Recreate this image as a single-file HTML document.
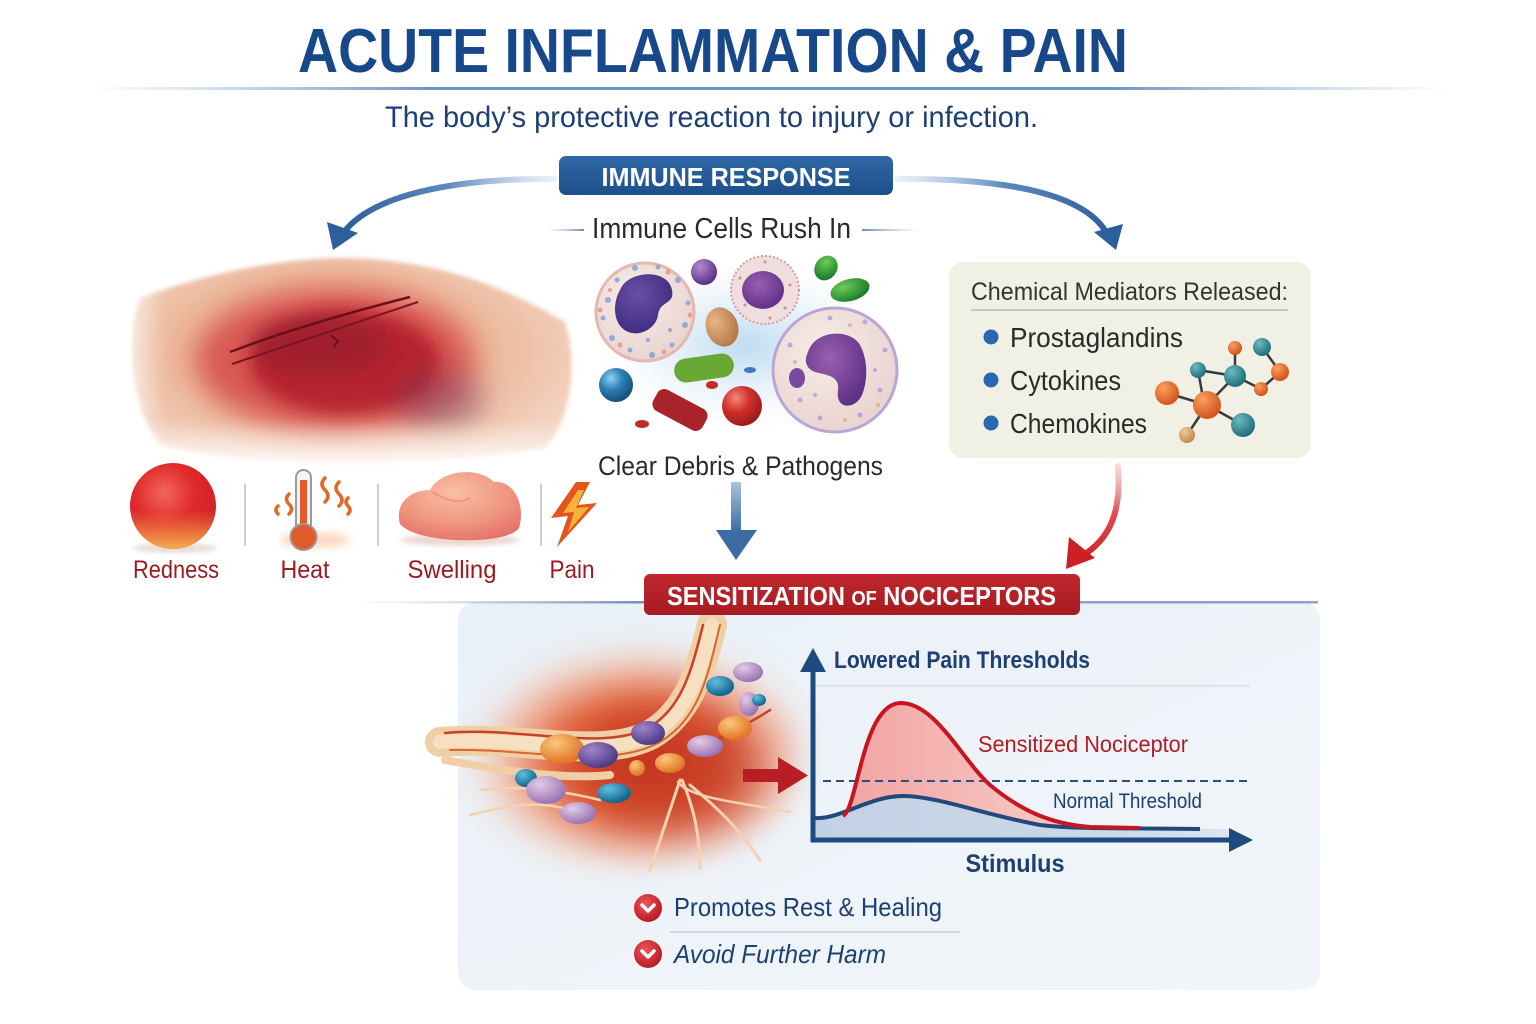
<!DOCTYPE html>
<html><head><meta charset="utf-8"><style>
html,body{margin:0;padding:0;background:#fff;}
svg{display:block;}
text{font-family:"Liberation Sans",sans-serif;}
</style></head><body>
<svg width="1536" height="1024" viewBox="0 0 1536 1024" xmlns="http://www.w3.org/2000/svg">
<defs>
 <filter id="b2" x="-20%" y="-20%" width="140%" height="140%"><feGaussianBlur stdDeviation="2"/></filter>
 <filter id="b4" x="-30%" y="-30%" width="160%" height="160%"><feGaussianBlur stdDeviation="4"/></filter>
 <filter id="b8" x="-40%" y="-40%" width="180%" height="180%"><feGaussianBlur stdDeviation="8"/></filter>
 <filter id="b14" x="-50%" y="-50%" width="200%" height="200%"><feGaussianBlur stdDeviation="14"/></filter>
 <filter id="b22" x="-50%" y="-50%" width="200%" height="200%"><feGaussianBlur stdDeviation="22"/></filter>
 <linearGradient id="tline" x1="0" x2="1" y1="0" y2="0">
  <stop offset="0" stop-color="#8fb0d6" stop-opacity="0"/><stop offset="0.25" stop-color="#6e95c6"/><stop offset="0.75" stop-color="#6e95c6"/><stop offset="1" stop-color="#8fb0d6" stop-opacity="0"/>
 </linearGradient>
 <linearGradient id="banBlue" x1="0" y1="0" x2="0" y2="1"><stop offset="0" stop-color="#2f68a6"/><stop offset="1" stop-color="#1d4f8a"/></linearGradient>
 <linearGradient id="banRed" x1="0" y1="0" x2="0" y2="1"><stop offset="0" stop-color="#c1272d"/><stop offset="1" stop-color="#a51c22"/></linearGradient>
 <linearGradient id="arrL" gradientUnits="userSpaceOnUse" x1="555" y1="0" x2="340" y2="0"><stop offset="0" stop-color="#9fbbdc" stop-opacity="0.2"/><stop offset="0.5" stop-color="#5d88bd"/><stop offset="1" stop-color="#2c5f9b"/></linearGradient>
 <linearGradient id="arrR" gradientUnits="userSpaceOnUse" x1="897" y1="0" x2="1112" y2="0"><stop offset="0" stop-color="#9fbbdc" stop-opacity="0.2"/><stop offset="0.5" stop-color="#5d88bd"/><stop offset="1" stop-color="#2c5f9b"/></linearGradient>
 <linearGradient id="arrD" x1="0" y1="0" x2="0" y2="1"><stop offset="0" stop-color="#a9c2de"/><stop offset="1" stop-color="#3c6ca4"/></linearGradient>
 <linearGradient id="arrRed" gradientUnits="userSpaceOnUse" x1="0" y1="462" x2="0" y2="565"><stop offset="0" stop-color="#f4b0b0" stop-opacity="0.4"/><stop offset="0.5" stop-color="#e04a4e"/><stop offset="1" stop-color="#cc1f26"/></linearGradient>
 <linearGradient id="sideLine" x1="0" x2="1"><stop offset="0" stop-color="#a7bcd6" stop-opacity="0"/><stop offset="1" stop-color="#6f8fb8"/></linearGradient>
 <linearGradient id="sideLineR" x1="0" x2="1"><stop offset="0" stop-color="#6f8fb8"/><stop offset="1" stop-color="#a7bcd6" stop-opacity="0"/></linearGradient>
 <linearGradient id="panel" x1="0" y1="0" x2="1" y2="1"><stop offset="0" stop-color="#e9f0f7"/><stop offset="1" stop-color="#f2f6fa"/></linearGradient>
 <radialGradient id="skin" cx="0.45" cy="0.45" r="0.6"><stop offset="0" stop-color="#e59a86"/><stop offset="0.6" stop-color="#ecb89c"/><stop offset="1" stop-color="#f3d2bf"/></radialGradient>
 <linearGradient id="fadeL" x1="0" x2="1"><stop offset="0" stop-color="#fff"/><stop offset="1" stop-color="#fff" stop-opacity="0"/></linearGradient>
 <linearGradient id="fadeB" x1="0" y1="0" x2="0" y2="1"><stop offset="0" stop-color="#fff" stop-opacity="0"/><stop offset="1" stop-color="#fff"/></linearGradient>
 <radialGradient id="red1" cx="0.4" cy="0.35" r="0.7"><stop offset="0" stop-color="#f4665a"/><stop offset="0.5" stop-color="#e02a2c"/><stop offset="1" stop-color="#cf1f27"/></radialGradient>
 <linearGradient id="redBot" x1="0" y1="0" x2="0" y2="1"><stop offset="0.55" stop-color="#f7a54a" stop-opacity="0"/><stop offset="1" stop-color="#f7b04e"/></linearGradient>
 <radialGradient id="swell" cx="0.45" cy="0.3" r="0.75"><stop offset="0" stop-color="#f9c0a6"/><stop offset="0.6" stop-color="#f09580"/><stop offset="1" stop-color="#e4726a"/></radialGradient>
 <radialGradient id="cellW" cx="0.4" cy="0.35" r="0.7"><stop offset="0" stop-color="#f7ece6"/><stop offset="1" stop-color="#e9d2d0"/></radialGradient>
 <radialGradient id="nuc" cx="0.4" cy="0.35" r="0.7"><stop offset="0" stop-color="#6b4fa8"/><stop offset="1" stop-color="#3c2b7f"/></radialGradient>
 <radialGradient id="nuc2" cx="0.4" cy="0.35" r="0.7"><stop offset="0" stop-color="#9a5fb0"/><stop offset="1" stop-color="#5d2f86"/></radialGradient>
 <radialGradient id="sphBlue" cx="0.35" cy="0.3" r="0.7"><stop offset="0" stop-color="#8fd0ee"/><stop offset="0.5" stop-color="#2b7fb5"/><stop offset="1" stop-color="#1b4f80"/></radialGradient>
 <radialGradient id="sphRed" cx="0.35" cy="0.3" r="0.7"><stop offset="0" stop-color="#f08a78"/><stop offset="0.5" stop-color="#d0302a"/><stop offset="1" stop-color="#9e1b1c"/></radialGradient>
 <radialGradient id="sphPur" cx="0.35" cy="0.3" r="0.7"><stop offset="0" stop-color="#b48ad0"/><stop offset="1" stop-color="#5a3188"/></radialGradient>
 <radialGradient id="sphGreen" cx="0.35" cy="0.3" r="0.7"><stop offset="0" stop-color="#6ccc5a"/><stop offset="1" stop-color="#1f7d2a"/></radialGradient>
 <radialGradient id="sphTan" cx="0.35" cy="0.3" r="0.7"><stop offset="0" stop-color="#eab58a"/><stop offset="1" stop-color="#b57a48"/></radialGradient>
 <radialGradient id="mOr" cx="0.35" cy="0.3" r="0.7"><stop offset="0" stop-color="#f7a060"/><stop offset="1" stop-color="#d5531a"/></radialGradient>
 <radialGradient id="mTe" cx="0.35" cy="0.3" r="0.7"><stop offset="0" stop-color="#6fbac2"/><stop offset="1" stop-color="#1f6f7d"/></radialGradient>
 <radialGradient id="mTan" cx="0.35" cy="0.3" r="0.7"><stop offset="0" stop-color="#f0c894"/><stop offset="1" stop-color="#c08a50"/></radialGradient>
 <radialGradient id="nerveBg" cx="0.55" cy="0.55" r="0.5"><stop offset="0" stop-color="#cf3b1f"/><stop offset="0.5" stop-color="#e2633a"/><stop offset="0.8" stop-color="#f2a888" stop-opacity="0.6"/><stop offset="1" stop-color="#f7d2c2" stop-opacity="0"/></radialGradient>
 <radialGradient id="ovTeal" cx="0.35" cy="0.3" r="0.7"><stop offset="0" stop-color="#5fc0e0"/><stop offset="1" stop-color="#12628c"/></radialGradient>
 <radialGradient id="ovPur" cx="0.35" cy="0.3" r="0.7"><stop offset="0" stop-color="#9f86c8"/><stop offset="1" stop-color="#4e3a86"/></radialGradient>
 <radialGradient id="ovLil" cx="0.35" cy="0.3" r="0.7"><stop offset="0" stop-color="#e3cce6"/><stop offset="1" stop-color="#9b73b3"/></radialGradient>
 <radialGradient id="ovOr" cx="0.35" cy="0.3" r="0.7"><stop offset="0" stop-color="#fcc77a"/><stop offset="1" stop-color="#e07325"/></radialGradient>
 <linearGradient id="redFill" x1="0" y1="0" x2="1" y2="0"><stop offset="0" stop-color="#f2a3a2"/><stop offset="0.6" stop-color="#f7cbc7"/><stop offset="1" stop-color="#fbe9e6"/></linearGradient>
 <linearGradient id="blueFill" x1="0" y1="0" x2="1" y2="0"><stop offset="0" stop-color="#c2d1e4"/><stop offset="0.7" stop-color="#cbd8e8"/><stop offset="1" stop-color="#dde6f0"/></linearGradient>
 <radialGradient id="bulRed" cx="0.4" cy="0.35" r="0.7"><stop offset="0" stop-color="#f0545a"/><stop offset="1" stop-color="#b5161f"/></radialGradient>
 <radialGradient id="cellsBg" cx="0.5" cy="0.5" r="0.5"><stop offset="0" stop-color="#b9d8ef"/><stop offset="1" stop-color="#e8f2fa" stop-opacity="0"/></radialGradient>
</defs>

<rect width="1536" height="1024" fill="#ffffff"/>

<!-- Title -->
<text x="298" y="72" font-size="62" font-weight="bold" fill="#17488a" textLength="830" lengthAdjust="spacingAndGlyphs">ACUTE INFLAMMATION &amp; PAIN</text>
<rect x="90" y="87" width="1360" height="3" fill="url(#tline)"/>
<text x="385" y="127" font-size="30" fill="#1d3f75" textLength="653" lengthAdjust="spacingAndGlyphs">The body’s protective reaction to injury or infection.</text>

<!-- Immune response banner -->
<path d="M 555 179 C 450 178, 372 196, 344 232" fill="none" stroke="url(#arrL)" stroke-width="6" stroke-linecap="round"/>
<polygon points="333,250 327,222 358,233" fill="#2c5f9b"/>
<path d="M 897 179 C 1000 178, 1082 192, 1106 232" fill="none" stroke="url(#arrR)" stroke-width="6" stroke-linecap="round"/>
<polygon points="1116,250 1094,232 1123,224" fill="#2c5f9b"/>
<rect x="559" y="156" width="334" height="39" rx="7" fill="url(#banBlue)"/>
<text x="726" y="186" font-size="26" font-weight="bold" fill="#ffffff" text-anchor="middle" textLength="249" lengthAdjust="spacingAndGlyphs">IMMUNE RESPONSE</text>

<rect x="546" y="229" width="38" height="2" fill="url(#sideLine)"/>
<rect x="862" y="229" width="58" height="2" fill="url(#sideLineR)"/>
<text x="592" y="238" font-size="29" fill="#2a2a2a" textLength="259" lengthAdjust="spacingAndGlyphs">Immune Cells Rush In</text>

<!-- Wound -->
<g>
 <path d="M 140 298 C 200 276, 270 259, 340 258 C 430 258, 500 284, 565 322 C 578 360, 572 420, 545 448 C 420 470, 250 468, 160 445 C 128 405, 126 330, 140 298 Z" fill="url(#skin)" filter="url(#b2)"/>
 <ellipse cx="335" cy="360" rx="140" ry="72" fill="#d23a3e" opacity="0.75" filter="url(#b14)"/>
 <ellipse cx="345" cy="362" rx="95" ry="52" fill="#b11f2b" opacity="0.85" filter="url(#b8)"/>
 <ellipse cx="320" cy="345" rx="70" ry="30" fill="#8e1b2e" opacity="0.5" filter="url(#b8)"/>
 <ellipse cx="440" cy="400" rx="45" ry="28" fill="#74355a" opacity="0.45" filter="url(#b14)"/>
 <rect x="110" y="280" width="55" height="190" fill="url(#fadeL)" filter="url(#b4)"/>
 <rect x="120" y="420" width="470" height="50" fill="url(#fadeB)" filter="url(#b4)"/>
 <path d="M 230 352 Q 300 325 410 297" fill="none" stroke="#6d0f1a" stroke-width="2.5"/>
 <path d="M 232 364 Q 310 338 418 302" fill="none" stroke="#7a1420" stroke-width="2"/>
 <path d="M 330 335 l 8 6 l -4 6" fill="none" stroke="#6d0f1a" stroke-width="2"/>
</g>

<!-- Cells cluster -->
<g>
 <ellipse cx="745" cy="345" rx="150" ry="85" fill="url(#cellsBg)" filter="url(#b8)"/>
 <circle cx="645" cy="312" r="49" fill="url(#cellW)" stroke="#e3b8b0" stroke-width="3"/>
 <path d="M 620 290 C 628 270, 668 268, 672 290 C 675 305, 660 300, 658 315 C 656 330, 635 340, 622 328 C 612 318, 614 300, 620 290 Z" fill="url(#nuc)"/>
 <g fill="#7aa0d8" opacity="0.8">
  <circle cx="608" cy="300" r="3"/><circle cx="603" cy="318" r="2.5"/><circle cx="612" cy="338" r="3"/><circle cx="630" cy="350" r="2.5"/><circle cx="652" cy="355" r="3"/><circle cx="672" cy="345" r="2.5"/><circle cx="685" cy="325" r="3"/><circle cx="688" cy="303" r="2.5"/><circle cx="678" cy="280" r="3"/><circle cx="658" cy="267" r="2.5"/><circle cx="635" cy="268" r="3"/><circle cx="617" cy="280" r="2.5"/><circle cx="670" cy="330" r="2"/><circle cx="648" cy="340" r="2"/>
 </g>
 <g fill="#e89078" opacity="0.8">
  <circle cx="600" cy="310" r="2.5"/><circle cx="620" cy="345" r="2.5"/><circle cx="664" cy="352" r="2.5"/><circle cx="690" cy="315" r="2.5"/><circle cx="668" cy="272" r="2.5"/><circle cx="610" cy="290" r="2"/>
 </g>
 <circle cx="765" cy="290" r="34" fill="#f0dede" stroke="#d89a9a" stroke-width="2" stroke-dasharray="2 2"/>
 <ellipse cx="763" cy="290" rx="21" ry="19" fill="url(#nuc2)"/>
 <g fill="#c06a78" opacity="0.7"><circle cx="740" cy="278" r="1.5"/><circle cx="745" cy="305" r="1.5"/><circle cx="790" cy="285" r="1.5"/><circle cx="785" cy="308" r="1.5"/><circle cx="765" cy="262" r="1.5"/><circle cx="770" cy="318" r="1.5"/></g>
 <circle cx="704" cy="272" r="13" fill="url(#sphPur)"/>
 <ellipse cx="826" cy="268" rx="11" ry="13" transform="rotate(35 826 268)" fill="url(#sphGreen)"/>
 <ellipse cx="850" cy="290" rx="20" ry="11" transform="rotate(-15 850 290)" fill="url(#sphGreen)"/>
 <ellipse cx="722" cy="327" rx="16" ry="20" transform="rotate(-20 722 327)" fill="url(#sphTan)"/>
 <rect x="674" y="356" width="60" height="24" rx="12" transform="rotate(-8 704 368)" fill="#6aa835"/>
 <circle cx="616" cy="385" r="17" fill="url(#sphBlue)"/>
 <rect x="652" y="398" width="56" height="24" rx="8" transform="rotate(28 680 410)" fill="#a8232a"/>
 <circle cx="742" cy="406" r="20" fill="url(#sphRed)"/>
 <ellipse cx="642" cy="424" rx="7" ry="4" fill="#c42a2a"/>
 <ellipse cx="712" cy="385" rx="6" ry="4" fill="#c42a2a"/>
 <ellipse cx="750" cy="370" rx="6" ry="3" fill="#3d7ac0"/>
 <circle cx="835" cy="370" r="62" fill="url(#cellW)" stroke="#b9a6d4" stroke-width="3"/>
 <path d="M 808 352 C 815 330, 850 328, 860 345 C 868 360, 868 380, 862 395 C 855 410, 835 410, 838 390 C 840 375, 825 375, 815 372 C 805 368, 804 360, 808 352 Z" fill="url(#nuc2)"/>
 <ellipse cx="797" cy="378" rx="8" ry="10" fill="#7a4aa0"/>
 <g fill="#b59ad4" opacity="0.8"><circle cx="790" cy="345" r="2.5"/><circle cx="800" cy="400" r="2.5"/><circle cx="820" cy="418" r="2.5"/><circle cx="860" cy="415" r="2.5"/><circle cx="880" cy="390" r="2.5"/><circle cx="885" cy="350" r="2.5"/><circle cx="865" cy="322" r="2.5"/><circle cx="830" cy="318" r="2.5"/><circle cx="815" cy="395" r="2"/><circle cx="875" cy="370" r="2"/></g>
 <g fill="#e8a088" opacity="0.7"><circle cx="795" cy="362" r="2"/><circle cx="845" cy="420" r="2"/><circle cx="878" cy="405" r="2"/><circle cx="850" cy="325" r="2"/></g>
</g>
<text x="598" y="475" font-size="27" fill="#2a2a2a" textLength="285" lengthAdjust="spacingAndGlyphs">Clear Debris &amp; Pathogens</text>

<rect x="731" y="482" width="10" height="50" fill="url(#arrD)"/>
<polygon points="716,530 757,530 736,560" fill="#3c6ca4"/>

<!-- Chemical mediators box -->
<rect x="949" y="262" width="362" height="196" rx="14" fill="#f1f0e5"/>
<text x="971" y="300" font-size="25" fill="#333333" textLength="317" lengthAdjust="spacingAndGlyphs">Chemical Mediators Released:</text>
<rect x="971" y="309" width="317" height="2" fill="#c9c8bb"/>
<circle cx="991" cy="337" r="7.5" fill="#2a67b1"/>
<circle cx="991" cy="380" r="7.5" fill="#2a67b1"/>
<circle cx="991" cy="423" r="7.5" fill="#2a67b1"/>
<text x="1010" y="347" font-size="28" fill="#2a2a2a" textLength="173" lengthAdjust="spacingAndGlyphs">Prostaglandins</text>
<text x="1010" y="390" font-size="28" fill="#2a2a2a" textLength="111" lengthAdjust="spacingAndGlyphs">Cytokines</text>
<text x="1010" y="433" font-size="28" fill="#2a2a2a" textLength="137" lengthAdjust="spacingAndGlyphs">Chemokines</text>
<g stroke="#3a3a3a" stroke-width="2.5">
 <line x1="1167" y1="393" x2="1207" y2="405"/>
 <line x1="1207" y1="405" x2="1235" y2="376"/>
 <line x1="1207" y1="405" x2="1243" y2="425"/>
 <line x1="1207" y1="405" x2="1187" y2="435"/>
 <line x1="1198" y1="370" x2="1235" y2="376"/>
 <line x1="1198" y1="370" x2="1203" y2="398"/>
 <line x1="1235" y1="376" x2="1235" y2="348"/>
 <line x1="1235" y1="376" x2="1261" y2="389"/>
 <line x1="1261" y1="389" x2="1280" y2="372"/>
 <line x1="1280" y1="372" x2="1262" y2="347"/>
</g>
<circle cx="1167" cy="393" r="12" fill="url(#mOr)"/>
<circle cx="1207" cy="405" r="14" fill="url(#mOr)"/>
<circle cx="1198" cy="370" r="8" fill="url(#mTe)"/>
<circle cx="1235" cy="376" r="11" fill="url(#mTe)"/>
<circle cx="1235" cy="348" r="7" fill="url(#mOr)"/>
<circle cx="1262" cy="347" r="9" fill="url(#mTe)"/>
<circle cx="1280" cy="372" r="9" fill="url(#mOr)"/>
<circle cx="1261" cy="389" r="7" fill="url(#mOr)"/>
<circle cx="1243" cy="425" r="12" fill="url(#mTe)"/>
<circle cx="1187" cy="435" r="8" fill="url(#mTan)"/>

<path d="M 1118 466 C 1122 515, 1108 540, 1082 556" fill="none" stroke="url(#arrRed)" stroke-width="6" stroke-linecap="round"/>
<polygon points="1066,569 1069,537 1095,558" fill="#cc1f26"/>

<!-- Symptoms icons -->
<ellipse cx="175" cy="548" rx="42" ry="5" fill="#d8c8c0" opacity="0.6" filter="url(#b2)"/>
<circle cx="173" cy="506" r="43" fill="url(#red1)"/>
<circle cx="173" cy="506" r="43" fill="url(#redBot)"/>
<rect x="244" y="484" width="2" height="62" fill="#cfcfcf"/>
<ellipse cx="315" cy="540" rx="35" ry="8" fill="#f6c09a" opacity="0.6" filter="url(#b4)"/>
<rect x="296" y="470" width="15" height="62" rx="7.5" fill="#f4f4f4" stroke="#9a9a9a" stroke-width="2"/>
<rect x="300" y="480" width="7" height="55" fill="#e05a2c"/>
<circle cx="303.5" cy="537" r="13" fill="#e05a2c" stroke="#9a9a9a" stroke-width="2"/>
<g fill="none" stroke="#e06a28" stroke-width="3.5" stroke-linecap="round">
 <path d="M 289 494 q -5 5 0 10 q 5 5 0 10"/>
 <path d="M 278 506 q -4 4 0 8"/>
 <path d="M 325 478 q -6 6 0 12 q 6 6 0 12"/>
 <path d="M 339 482 q -6 6 0 12 q 6 6 0 12"/>
 <path d="M 348 498 q -4 4 0 8 q 4 4 0 8"/>
</g>
<rect x="377" y="484" width="2" height="62" fill="#cfcfcf"/>
<ellipse cx="460" cy="540" rx="60" ry="6" fill="#e0c0b4" opacity="0.6" filter="url(#b2)"/>
<path d="M 400 524 C 394 502, 412 490, 430 490 C 440 470, 478 466, 494 482 C 514 480, 526 505, 519 528 C 508 545, 418 545, 400 524 Z" fill="url(#swell)"/>
<path d="M 432 492 C 445 500, 460 505, 470 498" fill="none" stroke="#e8846e" stroke-width="2" opacity="0.6"/>
<rect x="540" y="484" width="2" height="62" fill="#cfcfcf"/>
<polygon points="576,482 551,518 568,516 557,547 597,503 578,505 590,482" fill="#e2561d"/>
<polygon points="578,490 563,513 574,512 568,532 589,507 576,508 584,490" fill="#f6b23a"/>

<text x="176" y="578" font-size="25" fill="#9c1b20" text-anchor="middle" textLength="86" lengthAdjust="spacingAndGlyphs">Redness</text>
<text x="305" y="578" font-size="25" fill="#9c1b20" text-anchor="middle" textLength="49" lengthAdjust="spacingAndGlyphs">Heat</text>
<text x="452" y="578" font-size="25" fill="#9c1b20" text-anchor="middle" textLength="89" lengthAdjust="spacingAndGlyphs">Swelling</text>
<text x="572" y="578" font-size="25" fill="#9c1b20" text-anchor="middle" textLength="45" lengthAdjust="spacingAndGlyphs">Pain</text>

<!-- Bottom panel -->
<rect x="458" y="602" width="862" height="388" rx="18" fill="url(#panel)"/>
<rect x="350" y="601" width="296" height="2.5" fill="url(#sideLine)"/>
<rect x="1078" y="601" width="240" height="2.5" fill="#6f8fb8" opacity="0.8"/>

<!-- Nerve illustration -->
<g>
 <ellipse cx="625" cy="748" rx="180" ry="118" fill="url(#nerveBg)" filter="url(#b14)"/>
 <ellipse cx="670" cy="770" rx="90" ry="60" fill="#b82a1c" opacity="0.5" filter="url(#b22)"/>
 <g fill="none" stroke-linecap="round">
  <path d="M 440 742 C 520 735, 600 760, 650 735 C 690 712, 700 670, 712 625" stroke="#efcfa6" stroke-width="30"/>
  <path d="M 440 742 C 520 735, 600 760, 650 735 C 690 712, 700 670, 712 625" stroke="#f6e0c0" stroke-width="14"/>
  <path d="M 445 733 C 520 726, 600 752, 648 728 C 683 708, 692 668, 703 625" stroke="#c8412a" stroke-width="2.5"/>
  <path d="M 450 750 C 530 748, 610 770, 660 742 C 700 718, 708 675, 720 625" stroke="#d8672f" stroke-width="2"/>
  <path d="M 445 760 C 500 770, 560 780, 610 775" stroke="#f0cfa6" stroke-width="8"/>
  <path d="M 660 770 C 700 745, 740 730, 770 710" stroke="#c8412a" stroke-width="2.5"/>
  <path d="M 680 780 C 670 810, 660 840, 650 870" stroke="#f2d2b0" stroke-width="3"/>
  <path d="M 682 780 C 695 810, 700 840, 700 868" stroke="#f2d2b0" stroke-width="3"/>
  <path d="M 690 785 C 720 810, 740 830, 760 860" stroke="#f2d2b0" stroke-width="3"/>
  <path d="M 678 782 C 690 800, 760 805, 790 812" stroke="#f2d2b0" stroke-width="2.5"/>
  <path d="M 480 790 C 520 785, 560 790, 600 800" stroke="#f2d2b0" stroke-width="2.5"/>
  <path d="M 470 815 C 510 805, 540 800, 570 810" stroke="#f2d2b0" stroke-width="2.5"/>
 </g>
 <ellipse cx="562" cy="749" rx="22" ry="15" fill="url(#ovOr)"/>
 <ellipse cx="598" cy="755" rx="20" ry="13" fill="url(#ovPur)"/>
 <ellipse cx="648" cy="733" rx="17" ry="12" fill="url(#ovPur)"/>
 <ellipse cx="670" cy="763" rx="15" ry="10" fill="url(#ovOr)"/>
 <ellipse cx="637" cy="768" rx="8" ry="8" fill="url(#ovOr)"/>
 <ellipse cx="720" cy="686" rx="14" ry="10" fill="url(#ovTeal)"/>
 <ellipse cx="748" cy="672" rx="15" ry="10" fill="url(#ovLil)"/>
 <ellipse cx="749" cy="704" rx="10" ry="12" fill="url(#ovLil)"/>
 <ellipse cx="759" cy="700" rx="7" ry="6" fill="url(#ovTeal)"/>
 <ellipse cx="735" cy="728" rx="17" ry="12" fill="url(#ovOr)"/>
 <ellipse cx="705" cy="746" rx="18" ry="11" fill="url(#ovLil)"/>
 <ellipse cx="526" cy="778" rx="11" ry="9" fill="url(#ovTeal)"/>
 <ellipse cx="546" cy="790" rx="20" ry="14" fill="url(#ovLil)"/>
 <ellipse cx="614" cy="793" rx="17" ry="10" fill="url(#ovTeal)"/>
 <ellipse cx="578" cy="813" rx="18" ry="11" fill="url(#ovLil)"/>
</g>
<rect x="743" y="769" width="38" height="13" fill="#b81e25"/>
<polygon points="778,757 808,775.5 778,794" fill="#b81e25"/>

<!-- Chart -->
<rect x="815" y="685" width="435" height="1.5" fill="#d3dde8"/>
<path d="M 840 818 C 855 812, 860 705, 900 703 C 935 702, 962 760, 990 785 C 1020 810, 1050 824, 1090 827 L 1230 829 L 1230 838 L 840 838 Z" fill="url(#redFill)"/>
<path d="M 815 818 C 840 820, 870 795, 905 796 C 940 797, 985 815, 1040 825 C 1075 829, 1110 828, 1232 829 L 1232 838 L 815 838 Z" fill="url(#blueFill)"/>
<line x1="823" y1="781" x2="1248" y2="781" stroke="#2b4f80" stroke-width="2" stroke-dasharray="8 5"/>
<path d="M 815 818 C 840 820, 870 795, 905 796 C 940 797, 985 815, 1040 825 C 1075 829, 1110 828, 1200 829" fill="none" stroke="#23497c" stroke-width="4"/>
<path d="M 843 816 C 858 808, 862 705, 900 703 C 935 702, 962 760, 990 785 C 1020 810, 1050 824, 1090 827 L 1140 828" fill="none" stroke="#c8151f" stroke-width="4"/>
<line x1="813" y1="668" x2="813" y2="842" stroke="#1d4b80" stroke-width="5"/>
<polygon points="813,648 800,672 826,672" fill="#1d4b80"/>
<line x1="811" y1="840" x2="1232" y2="840" stroke="#1d4b80" stroke-width="5"/>
<polygon points="1253,840 1229,828 1229,852" fill="#1d4b80"/>
<text x="834" y="668" font-size="24" fill="#1d3f72" font-weight="bold" textLength="256" lengthAdjust="spacingAndGlyphs">Lowered Pain Thresholds</text>
<text x="978" y="752" font-size="23" fill="#b01d22" textLength="210" lengthAdjust="spacingAndGlyphs">Sensitized Nociceptor</text>
<text x="1053" y="808" font-size="21" fill="#1d3f72" textLength="149" lengthAdjust="spacingAndGlyphs">Normal Threshold</text>
<text x="1015" y="872" font-size="25" fill="#1d3f72" font-weight="bold" text-anchor="middle" textLength="99" lengthAdjust="spacingAndGlyphs">Stimulus</text>

<!-- Sensitization banner -->
<rect x="644" y="574" width="436" height="41" rx="6" fill="url(#banRed)"/>
<text x="667" y="605" font-size="26" font-weight="bold" fill="#ffffff" textLength="389" lengthAdjust="spacingAndGlyphs">SENSITIZATION <tspan font-size="20">OF</tspan> NOCICEPTORS</text>

<!-- bullets -->
<circle cx="648" cy="908" r="14" fill="url(#bulRed)"/>
<path d="M 642 905 l 6 6 l 6 -6" fill="none" stroke="#fff" stroke-width="3.5" stroke-linecap="round" stroke-linejoin="round"/>
<text x="674" y="916" font-size="26" fill="#1d3f72" textLength="268" lengthAdjust="spacingAndGlyphs">Promotes Rest &amp; Healing</text>
<rect x="670" y="931" width="290" height="2" fill="#d0d8e2"/>
<circle cx="648" cy="954" r="14" fill="url(#bulRed)"/>
<path d="M 642 951 l 6 6 l 6 -6" fill="none" stroke="#fff" stroke-width="3.5" stroke-linecap="round" stroke-linejoin="round"/>
<text x="674" y="963" font-size="26" fill="#1d3f72" font-style="italic" textLength="212" lengthAdjust="spacingAndGlyphs">Avoid Further Harm</text>
</svg>
</body></html>
